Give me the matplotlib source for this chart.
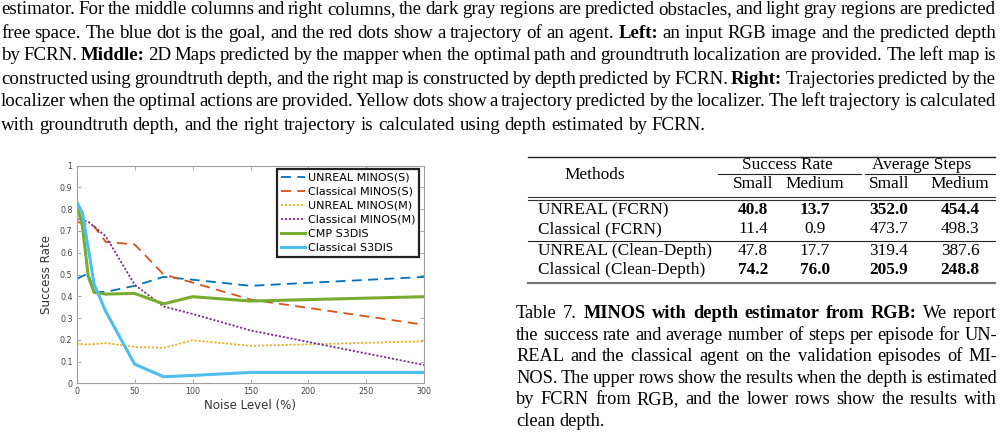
import matplotlib
matplotlib.use("Agg")
import matplotlib.pyplot as plt

W, H = 1002, 438

# ---- chart data ----
x_unreal_s = [0, 10, 15, 25, 50, 75, 100, 150, 300]
unreal_s = [0.48, 0.505, 0.42, 0.42, 0.448, 0.489, 0.476, 0.448, 0.489]
x_classical_s = [0, 15, 25, 50, 75, 100, 150, 300]
classical_s = [0.742, 0.722, 0.65, 0.638, 0.50, 0.463, 0.385, 0.269]
x_unreal_m = [0, 10, 25, 50, 75, 100, 150, 300]
unreal_m = [0.182, 0.178, 0.185, 0.167, 0.163, 0.198, 0.172, 0.193]
x_classical_m = [0, 10, 25, 50, 75, 100, 150, 300]
classical_m = [0.755, 0.742, 0.676, 0.453, 0.353, 0.319, 0.243, 0.084]
x_cmp = [0, 5, 10, 15, 25, 50, 75, 100, 150, 300]
cmp_s3dis = [0.83, 0.72, 0.49, 0.418, 0.41, 0.413, 0.365, 0.398, 0.378, 0.398]
x_cls3d = [0, 5, 15, 25, 50, 75, 100, 150, 300]
classical_s3dis = [0.833, 0.783, 0.456, 0.331, 0.088, 0.030, 0.036, 0.05, 0.05]

series_labels = ["UNREAL MINOS(S)", "Classical MINOS(S)", "UNREAL MINOS(M)",
                 "Classical MINOS(M)", "CMP S3DIS", "Classical S3DIS"]
x_ticks = [0, 50, 100, 150, 200, 250, 300]
y_ticks = [0, 0.1, 0.2, 0.3, 0.4, 0.5, 0.6, 0.7, 0.8, 0.9, 1]

# ---- table data ----
col_groups = ["Success Rate", "Average Steps"]
col_sub = ["Small", "Medium", "Small", "Medium"]
row_names = ["UNREAL (FCRN)", "Classical (FCRN)", "UNREAL (Clean-Depth)", "Classical (Clean-Depth)"]
table_vals = [["40.8", "13.7", "352.0", "454.4"],
              ["11.4", "0.9", "473.7", "498.3"],
              ["47.8", "17.7", "319.4", "387.6"],
              ["74.2", "76.0", "205.9", "248.8"]]
bold_rows = [0, 3]

# ---- caption text (*word* = bold) ----
top_lines = [
    "estimator. For the middle columns and right columns, the dark gray regions are predicted obstacles, and light gray regions are predicted",
    "free space. The blue dot is the goal, and the red dots show a trajectory of an agent. *Left:* an input RGB image and the predicted depth",
    "by FCRN. *Middle:* 2D Maps predicted by the mapper when the optimal path and groundtruth localization are provided. The left map is",
    "constructed using groundtruth depth, and the right map is constructed by depth predicted by FCRN. *Right:* Trajectories predicted by the",
    "localizer when the optimal actions are provided. Yellow dots show a trajectory predicted by the localizer. The left trajectory is calculated",
    "with groundtruth depth, and the right trajectory is calculated using depth estimated by FCRN.",
]
cap_lines = [
    "Table 7. *MINOS* *with* *depth* *estimator* *from* *RGB:* We report",
    "the success rate and average number of steps per episode for UN-",
    "REAL and the classical agent on the validation episodes of MI-",
    "NOS. The upper rows show the results when the depth is estimated",
    "by FCRN from RGB, and the lower rows show the results with",
    "clean depth.",
]

fig = plt.figure(figsize=(W / 100, H / 100), dpi=100)
renderer = fig.canvas.get_renderer()
SERIF = "Liberation Serif"


def fx(px):
    return px / W


def fy(py):
    return 1 - py / H


def put_line(line, x0, x1, y, size, justify=True):
    arts = []
    for w in line.split():
        bold = len(w) > 2 and w.startswith("*") and w.endswith("*")
        t = fig.text(0, fy(y), w.strip("*") if bold else w, fontsize=size, family=SERIF,
                     fontweight="bold" if bold else "normal", va="baseline", ha="left")
        arts.append(t)
    widths = [a.get_window_extent(renderer).width for a in arts]
    if justify and len(arts) > 1:
        gap = (x1 - x0 - sum(widths)) / (len(arts) - 1)
    else:
        gap = size * 100 / 72 * 0.25
    x = x0
    for a, w in zip(arts, widths):
        a.set_x(fx(x))
        x += w + gap


for i, line in enumerate(top_lines):
    put_line(line, 1, 996, 14.5 + 23 * i, 13.6, justify=i < len(top_lines) - 1)

for i, line in enumerate(cap_lines):
    put_line(line, 516, 997, 318 + 21.6 * i, 13.2, justify=i < len(cap_lines) - 1)

# ---- chart ----
ax = fig.add_axes([fx(76.7), fy(383.3), (424.3 - 76.7) / W, (383.3 - 165.7) / H])
ax.plot(x_unreal_s, unreal_s, color="#0072BD", lw=1.3, dashes=(5.5, 3.5))
ax.plot(x_classical_s, classical_s, color="#D95319", lw=1.3, dashes=(5.5, 3.5))
ax.plot(x_unreal_m, unreal_m, color="#EDB120", lw=1.3, dashes=(1.2, 1.0))
ax.plot(x_classical_m, classical_m, color="#7E2F8E", lw=1.3, dashes=(1.2, 1.0))
ax.plot(x_cmp, cmp_s3dis, color="#77AC30", lw=2.2)
ax.plot(x_cls3d, classical_s3dis, color="#4DBEEE", lw=2.2)

ax.set_xlim(0, 300)
ax.set_ylim(0, 1)
ax.set_xticks(x_ticks)
ax.set_yticks(y_ticks)
ax.set_yticklabels(["%g" % v for v in y_ticks])
ax.tick_params(direction="in", length=3, width=0.6, color="#999999", labelcolor="#444444",
               labelsize=5.8, top=True, right=True, pad=3)
for s in ax.spines.values():
    s.set_color("#a0a0a0")
    s.set_linewidth(0.8)
ax.set_xlabel("Noise Level (%)", fontsize=8.6, color="#333333", labelpad=2)
ax.set_ylabel("Success Rate", fontsize=8.6, color="#333333", labelpad=5)

leg = ax.legend(series_labels, loc="upper right", bbox_to_anchor=(0.986, 0.985), fontsize=8,
                handlelength=2.2, handletextpad=0.25, labelspacing=0.36, borderpad=0.35,
                fancybox=False, framealpha=1, borderaxespad=0)
leg.get_frame().set_edgecolor("#222222")
leg.get_frame().set_linewidth(1.6)

# ---- table ----
TS = 12.4
tx0, tx1 = 528, 995
col_x = [753, 815, 889, 960]
fig.add_artist(plt.Line2D([fx(tx0), fx(tx1)], [fy(157), fy(157)], color="#222222", lw=1.0))
fig.text(fx(595), fy(175), "Methods", fontsize=TS, family=SERIF, ha="center", va="center")
fig.text(fx(787), fy(165), col_groups[0], fontsize=TS, family=SERIF, ha="center", va="center")
fig.text(fx(922), fy(165), col_groups[1], fontsize=TS, family=SERIF, ha="center", va="center")
fig.add_artist(plt.Line2D([fx(718), fx(861)], [fy(173.5), fy(173.5)], color="#222222", lw=0.8))
fig.add_artist(plt.Line2D([fx(865), fx(tx1)], [fy(173.5), fy(173.5)], color="#222222", lw=0.8))
for cx, lab in zip(col_x, col_sub):
    fig.text(fx(cx), fy(184), lab, fontsize=TS, family=SERIF, ha="center", va="center")
for yy in (197, 200):
    fig.add_artist(plt.Line2D([fx(tx0), fx(tx1)], [fy(yy), fy(yy)], color="#333333", lw=0.8))
row_y = [210, 229, 251, 270]
for r, (name, vals) in enumerate(zip(row_names, table_vals)):
    fig.text(fx(538), fy(row_y[r]), name, fontsize=TS, family=SERIF, ha="left", va="center")
    for cx, v in zip(col_x, vals):
        fig.text(fx(cx), fy(row_y[r]), v, fontsize=TS, family=SERIF, ha="center", va="center",
                 fontweight="bold" if r in bold_rows else "normal")
fig.add_artist(plt.Line2D([fx(tx0), fx(tx1)], [fy(241), fy(241)], color="#222222", lw=0.8))
fig.add_artist(plt.Line2D([fx(tx0), fx(tx1)], [fy(283), fy(283)], color="#777777", lw=1.6))

fig.savefig("out.png", dpi=100)
